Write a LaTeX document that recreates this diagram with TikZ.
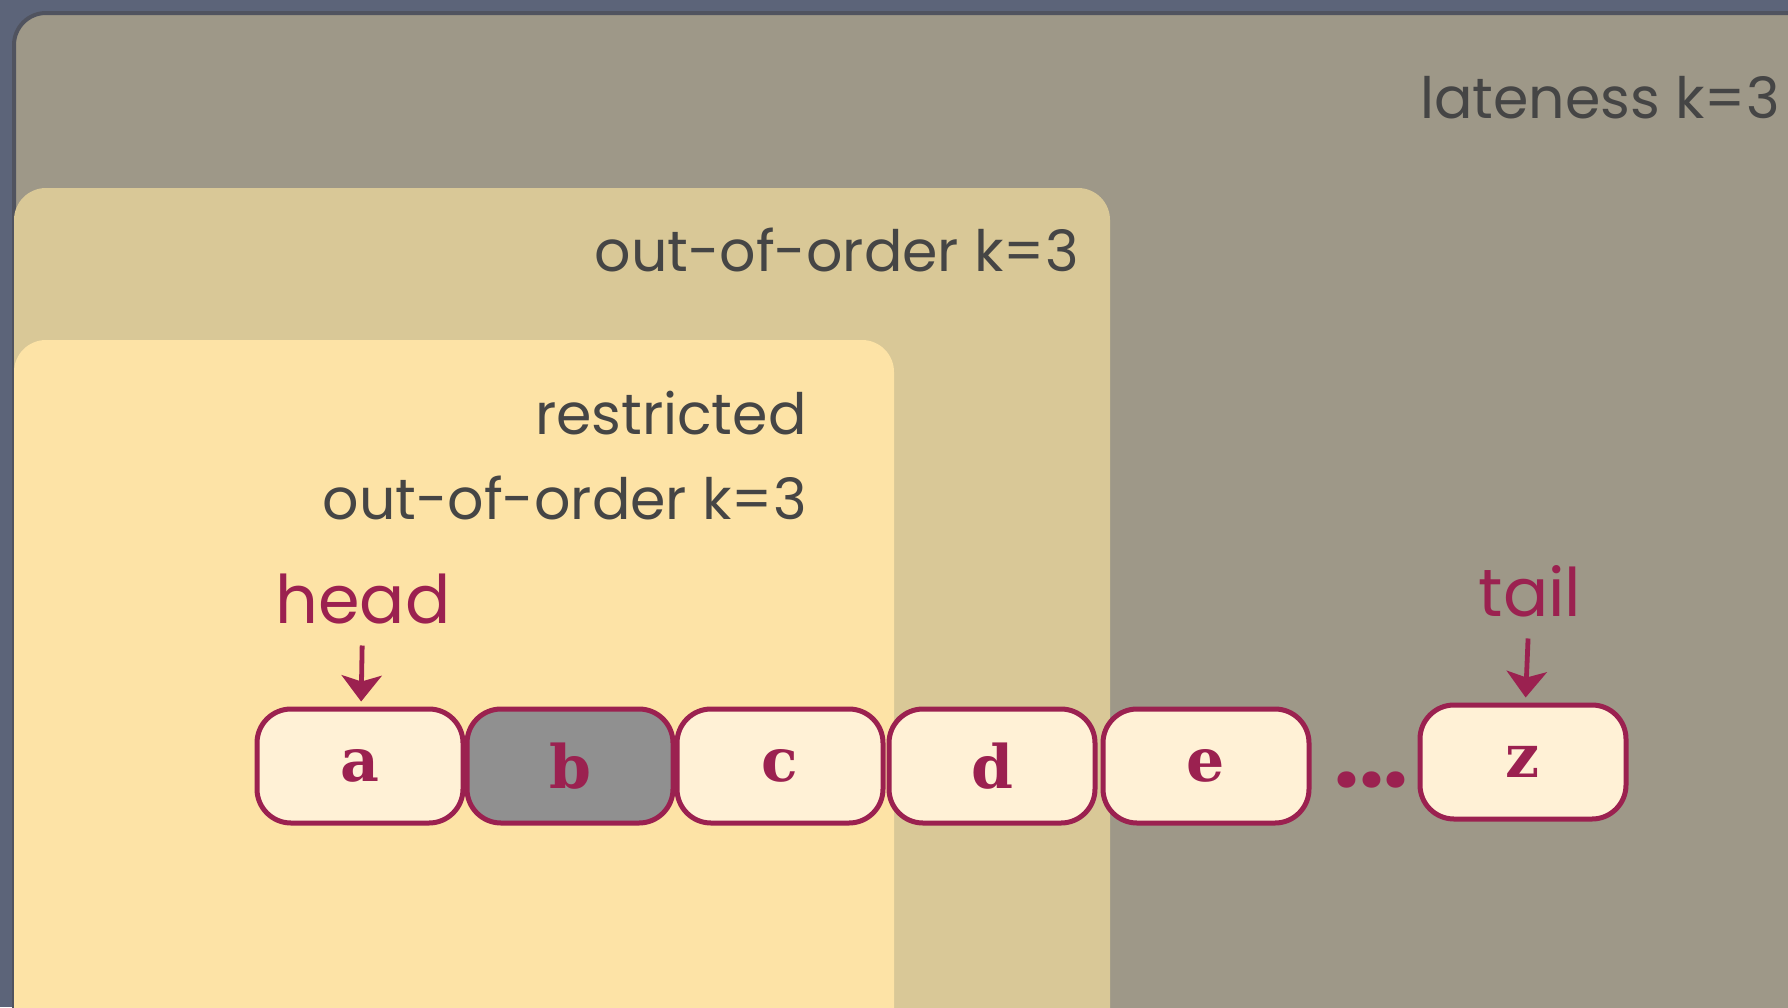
\documentclass[tikz,border=0pt]{standalone}
\usepackage{fontspec}
\setmainfont{Poppins}
\newfontfamily\typefont{DejaVu Serif}
\usetikzlibrary{arrows.meta, positioning, calc}
\definecolor{slate}{HTML}{5C6479}
\definecolor{rim}{HTML}{50535F}
\definecolor{stone}{HTML}{9E9888}
\definecolor{sand}{HTML}{D9C897}
\definecolor{butter}{HTML}{FDE3A6}
\definecolor{cream}{HTML}{FFF1D6}
\definecolor{ash}{HTML}{909090}
\definecolor{maroon}{HTML}{9B2150}
\definecolor{ink}{HTML}{454545}

\begin{document}
\begin{tikzpicture}[
x=0.5pt, y=-0.5pt,
node distance=-0.5pt,
cell/.style={draw=maroon, line width=2.5pt, fill=cream, rounded corners=17pt, minimum width=103pt, minimum height=57pt, inner sep=0pt, text=maroon, font=\typefont\bfseries\fontsize{30}{30}\selectfont},
paneltext/.style={text=ink, inner sep=0pt, anchor=base east, font=\fontsize{28.5}{28.5}\selectfont},
endtag/.style={text=maroon, inner sep=0pt, font=\fontsize{33.5}{33.5}\selectfont},
ptr/.style={-{Stealth[length=13pt, width=20pt, inset=3pt]}, line width=2.4pt, draw=maroon, shorten <=10.5pt, shorten >=2.5pt}
]

\clip (0,0) rectangle (1788,1007);
\fill[slate] (0,0) rectangle (1788,1007);
\filldraw[fill=stone, draw=rim, line width=2pt, rounded corners=16pt] (14,13) rectangle (1850,1060);
\fill[sand, rounded corners=16pt] (14,188) rectangle (1110,1060);
\fill[butter, rounded corners=16pt] (14,340) rectangle (894,1060);

\node[paneltext] (late) at (1780,118) {lateness k=3};
\node[paneltext] (ooo) at (1079,271) {out-of-order k=3};
\node[paneltext] (restr) at (807,434) {restricted};
\node[paneltext] (rooo) at (807,519) {out-of-order k=3};

\node[cell] (a) at (360,766) {a};
\node[cell, fill=ash, right=of a] (b) {b};
\node[cell, right=of b] (c) {c};
\node[cell, right=0.5pt of c] (d) {d};
\node[cell, right=1.5pt of d] (e) {e};
\node[cell, right=53pt of e, yshift=2pt] (z) {z};
\node[text=maroon, font=\bfseries\fontsize{44}{44}\selectfont, xshift=3.5pt, yshift=-8pt] (dots) at ($(e.east)!0.5!(z.west)$) {...};

\node[endtag, above=41pt of a, xshift=1.5pt] (head) {head};
\node[endtag, above=42.5pt of z, xshift=3.5pt] (tail) {tail};

\draw[ptr] (head) -- (a);
\draw[ptr] (tail) -- (z);

\end{tikzpicture}
\end{document}
